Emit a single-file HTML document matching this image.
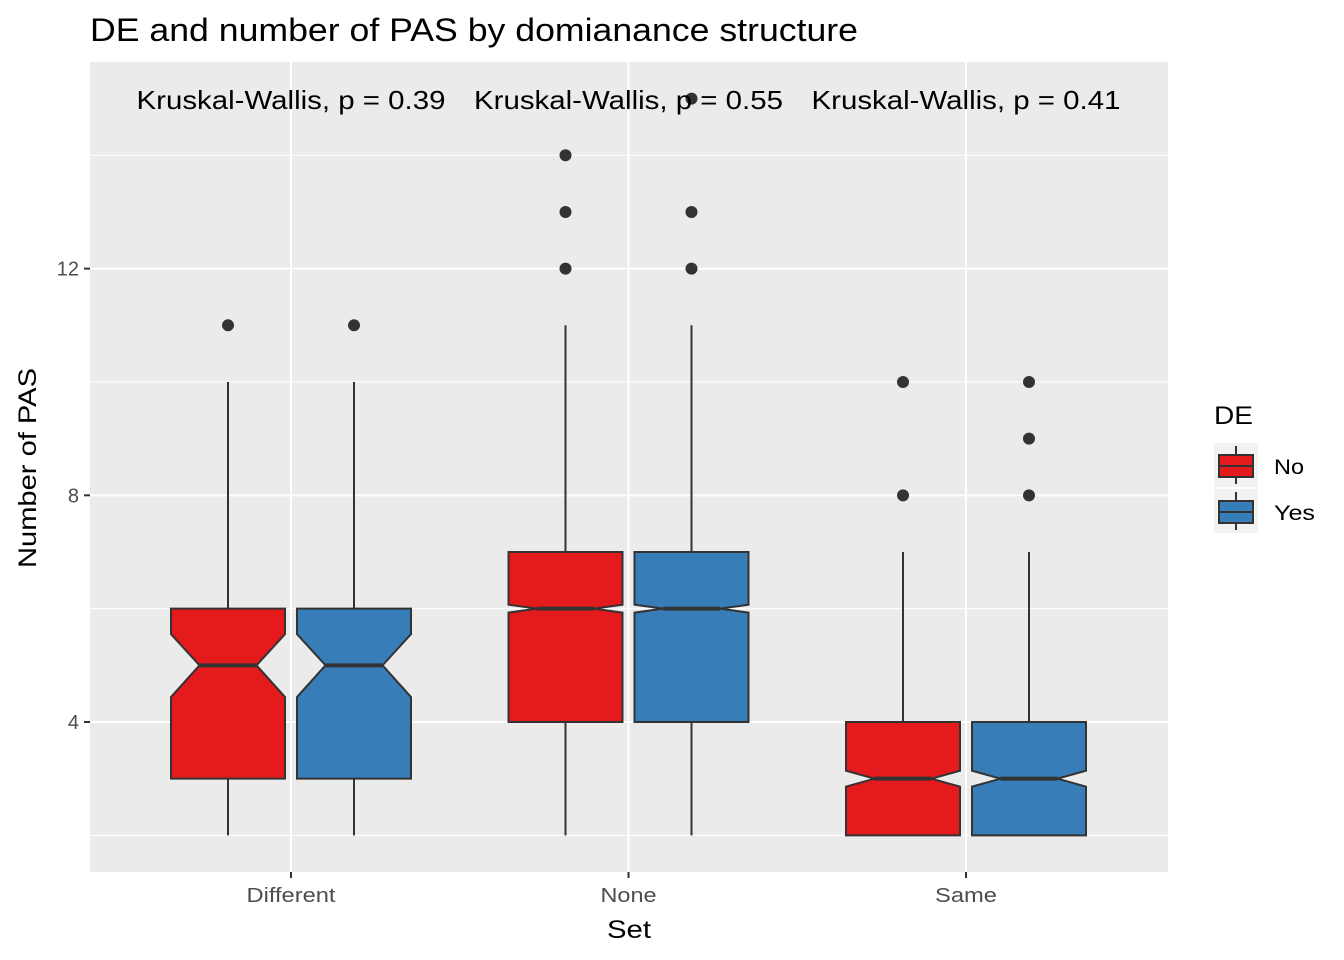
<!DOCTYPE html>
<html><head><meta charset="utf-8"><style>
body{margin:0;background:#fff;}
svg{display:block;font-family:"Liberation Sans",Arial,sans-serif;}
</style></head><body>
<svg id="chart" width="1344" height="960">
<rect x="0" y="0" width="1344" height="960" fill="#fff"/>
<text x="90" y="41" font-size="32" textLength="768" lengthAdjust="spacingAndGlyphs" fill="#000">DE and number of PAS by domianance structure</text>
<rect x="90" y="62" width="1078" height="810" fill="#ebebeb"/>
<g id="grid"></g>
<g id="marks"></g>
<g id="axes"></g>
<text x="36" y="468" font-size="25" text-anchor="middle" textLength="200" lengthAdjust="spacingAndGlyphs" transform="rotate(-90 36 468)">Number of PAS</text>
<text x="629" y="938" font-size="25" text-anchor="middle" textLength="44" lengthAdjust="spacingAndGlyphs">Set</text>
<g>
<text x="1214" y="424" font-size="25" textLength="39" lengthAdjust="spacingAndGlyphs">DE</text>
<g>
<rect x="1214" y="443" width="44" height="44" fill="#f2f2f2"/>
<line x1="1236" y1="446" x2="1236" y2="484" stroke="#333" stroke-width="2"/>
<rect x="1219" y="455" width="34" height="22" fill="#e41a1c" stroke="#333" stroke-width="2"/>
<line x1="1219" y1="466" x2="1253" y2="466" stroke="#333" stroke-width="2"/>
<text x="1274" y="474" font-size="21" textLength="30" lengthAdjust="spacingAndGlyphs">No</text></g>
<g>
<rect x="1214" y="489" width="44" height="44" fill="#f2f2f2"/>
<line x1="1236" y1="492" x2="1236" y2="530" stroke="#333" stroke-width="2"/>
<rect x="1219" y="501" width="34" height="22" fill="#377eb8" stroke="#333" stroke-width="2"/>
<line x1="1219" y1="512" x2="1253" y2="512" stroke="#333" stroke-width="2"/>
<text x="1274" y="520" font-size="21" textLength="41" lengthAdjust="spacingAndGlyphs">Yes</text></g>
</g>
</svg>
<script>
const categories=["Different","None","Same"];
const groups=["No","Yes"];
const lowerWhisker=[[2,2],[2,2],[2,2]];
const q1=[[3,3],[4,4],[2,2]];
const medians=[[5,5],[6,6],[3,3]];
const q3=[[6,6],[7,7],[4,4]];
const upperWhisker=[[10,10],[11,11],[7,7]];
const notchLow=[[4.44,4.44],[5.93,5.93],[2.86,2.86]];
const notchHigh=[[5.55,5.55],[6.07,6.07],[3.14,3.14]];
const outliers=[[[11],[11]],[[12,13,14],[12,13,15]],[[8,10],[8,9,10]]];
const yTicks=[4,8,12];
const yMinor=[2,6,10,14];
const pLabels=["Kruskal-Wallis, p = 0.39","Kruskal-Wallis, p = 0.55","Kruskal-Wallis, p = 0.41"];
const colors=["#e41a1c","#377eb8"];
const NS="http://www.w3.org/2000/svg";
function y(v){return 722-(v-4)*56.67;}
function xc(i){return 291+i*337.5;}
function mk(tag,attrs,parent){const e=document.createElementNS(NS,tag);for(const k in attrs)e.setAttribute(k,attrs[k]);parent.appendChild(e);return e;}
const grid=document.getElementById('grid'),marks=document.getElementById('marks'),axes=document.getElementById('axes');
yMinor.forEach(v=>{const l=mk('line',{x1:90,x2:1168,y1:y(v),y2:y(v),stroke:'#fff','stroke-width':1},grid);

});
yTicks.forEach(v=>{const l=mk('line',{x1:90,x2:1168,y1:y(v),y2:y(v),stroke:'#fff','stroke-width':2},grid);


const t=mk('line',{x1:84,x2:90,y1:y(v),y2:y(v),stroke:'#333','stroke-width':2},axes);


const tx=mk('text',{x:79,y:y(v)+7,'font-size':20,fill:'#4d4d4d','text-anchor':'end'},axes);tx.textContent=v;

});
const tickLens=[89,56,62];
categories.forEach((c,i)=>{const x=xc(i);
const g=mk('line',{x1:x,x2:x,y1:62,y2:872,stroke:'#fff','stroke-width':2},grid);


const t=mk('line',{x1:x,x2:x,y1:872,y2:878,stroke:'#333','stroke-width':2},axes);


const tx=mk('text',{x:x,y:902,'font-size':20,fill:'#4d4d4d','text-anchor':'middle',textLength:tickLens[i],lengthAdjust:'spacingAndGlyphs'},axes);tx.textContent=c;


const p=mk('text',{x:x,y:109,'font-size':26,fill:'#000','text-anchor':'middle',textLength:309,lengthAdjust:'spacingAndGlyphs'},axes);p.textContent=pLabels[i];


groups.forEach((gname,j)=>{const cx=x+(j?63:-63),hw=57,nw=28.5;
const wl=mk('line',{x1:cx,x2:cx,y1:y(upperWhisker[i][j]),y2:y(lowerWhisker[i][j]),stroke:'#333','stroke-width':2},marks);


const L=cx-hw,R=cx+hw;
const pts=[[L,y(q3[i][j])],[R,y(q3[i][j])],[R,y(notchHigh[i][j])],[cx+nw,y(medians[i][j])],[R,y(notchLow[i][j])],[R,y(q1[i][j])],[L,y(q1[i][j])],[L,y(notchLow[i][j])],[cx-nw,y(medians[i][j])],[L,y(notchHigh[i][j])]];
const b=mk('polygon',{points:pts.map(p=>p.join(',')).join(' '),fill:colors[j],stroke:'#333','stroke-width':2},marks);


const m=mk('line',{x1:cx-nw,x2:cx+nw,y1:y(medians[i][j]),y2:y(medians[i][j]),stroke:'#333','stroke-width':4},marks);


outliers[i][j].forEach(v=>{const o=mk('circle',{cx:cx,cy:y(v),r:6,fill:'#333'},marks);

});
});});
</script>
</body></html>
